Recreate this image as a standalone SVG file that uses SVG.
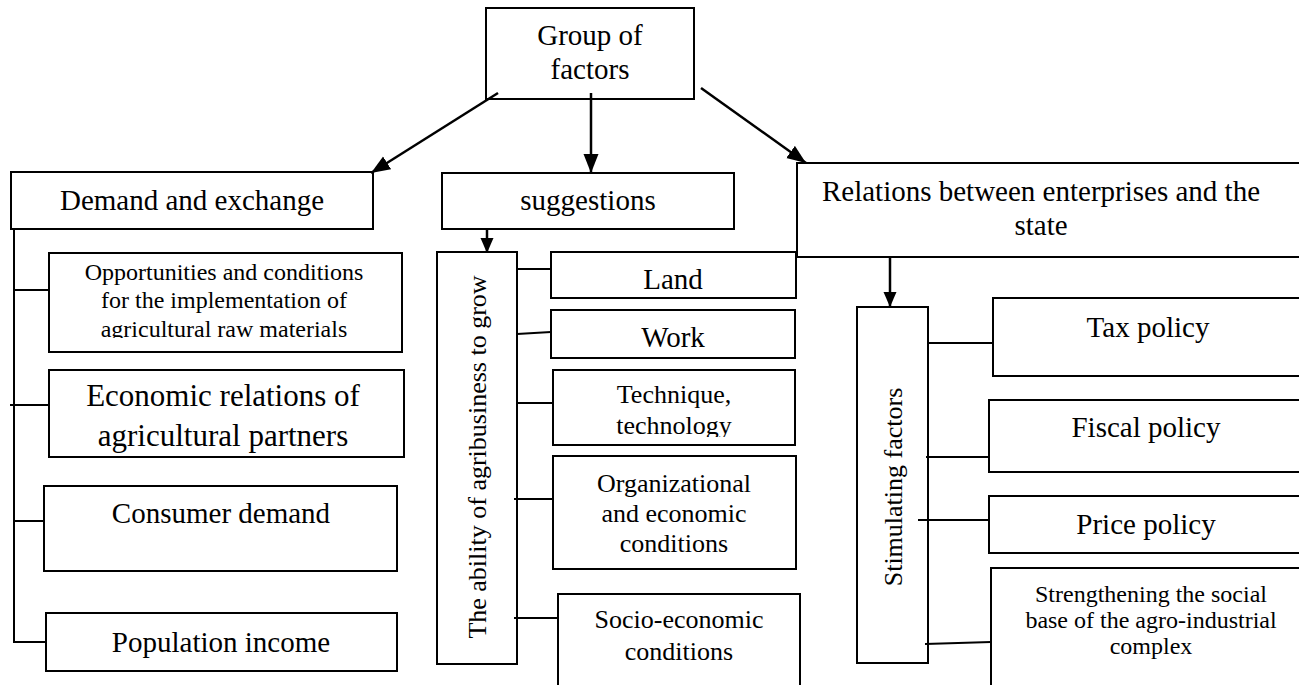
<svg xmlns="http://www.w3.org/2000/svg" width="1299" height="685" viewBox="0 0 1299 685" font-family="'Liberation Serif', 'DejaVu Serif', serif">
<style>
text{font-family:'Liberation Serif','DejaVu Serif',serif;fill:#000;text-anchor:middle}
.b{font-size:29px}
.m{font-size:26px}
.s{font-size:24px}
rect{fill:#fff;stroke:#000;stroke-width:2}
.c line{stroke:#000;stroke-width:2}
.c .a{stroke-width:2.5}
</style>
<defs>
<marker id="ah" markerUnits="userSpaceOnUse" markerWidth="20" markerHeight="16" refX="19" refY="7.5" orient="auto"><path d="M0,0 L19,7.5 L0,15 z" fill="#000"/></marker>
<marker id="ahs" markerUnits="userSpaceOnUse" markerWidth="16" markerHeight="14" refX="15" refY="6.5" orient="auto"><path d="M0,0 L15,6.5 L0,13 z" fill="#000"/></marker>
<clipPath id="clipOpp"><rect x="49" y="253" width="353" height="85"/></clipPath>
<clipPath id="clipTech"><rect x="553" y="370" width="242" height="67"/></clipPath>
</defs>

<g id="group-of-factors"><rect x="486" y="8" width="208" height="91"/><text class="b" x="590" y="45">Group of</text><text class="b" x="590" y="79">factors</text></g>

<g id="demand-and-exchange"><rect x="11" y="172" width="362" height="57"/><text class="b" x="192" y="210">Demand and exchange</text></g>
<g id="suggestions"><rect x="442" y="173" width="292" height="56"/><text class="b" x="588" y="210">suggestions</text></g>
<g id="relations"><rect x="797" y="163" width="513" height="94"/><text class="b" x="1041" y="201">Relations between enterprises and the</text><text class="b" x="1041" y="235">state</text></g>

<g id="opportunities"><rect x="49" y="253" width="353" height="99"/><g clip-path="url(#clipOpp)"><text class="s" x="224" y="280">Opportunities and conditions</text><text class="s" x="224" y="308">for the implementation of</text><text class="s" x="224" y="337">agricultural raw materials</text></g></g>
<g id="economic-relations"><rect x="49" y="370" width="355" height="87"/><text class="b" x="223" y="406" style="font-size:31px">Economic relations of</text><text class="b" x="223" y="446" style="font-size:31px">agricultural partners</text></g>
<g id="consumer-demand"><rect x="44" y="486" width="353" height="85"/><text class="b" x="221" y="523">Consumer demand</text></g>
<g id="population-income"><rect x="46" y="613" width="351" height="58"/><text class="b" x="221" y="652">Population income</text></g>

<g id="ability"><rect x="437" y="252" width="80" height="412"/><text class="m" transform="translate(486,457) rotate(-90)" x="0" y="0">The ability of agribusiness to grow</text></g>
<g id="land"><rect x="551" y="252" width="245" height="46"/><text class="b" x="673" y="289">Land</text></g>
<g id="work"><rect x="551" y="310" width="244" height="48"/><text class="b" x="673" y="347">Work</text></g>
<g id="technique"><rect x="553" y="370" width="242" height="75"/><g clip-path="url(#clipTech)"><text class="m" x="674" y="403">Technique,</text><text class="m" x="674" y="434">technology</text></g></g>
<g id="organizational"><rect x="553" y="456" width="243" height="113"/><text class="m" x="674" y="492">Organizational</text><text class="m" x="674" y="522">and economic</text><text class="m" x="674" y="552">conditions</text></g>
<g id="socio-economic"><rect x="558" y="594" width="242" height="106"/><text class="m" x="679" y="628">Socio-economic</text><text class="m" x="679" y="660">conditions</text></g>

<g id="stimulating"><rect x="857" y="307" width="71" height="356"/><text class="m" transform="translate(902,487) rotate(-90)" x="0" y="0">Stimulating factors</text></g>
<g id="tax-policy"><rect x="993" y="298" width="317" height="78"/><text class="b" x="1148" y="337">Tax policy</text></g>
<g id="fiscal-policy"><rect x="989" y="400" width="321" height="72"/><text class="b" x="1146" y="437">Fiscal policy</text></g>
<g id="price-policy"><rect x="989" y="496" width="321" height="57"/><text class="b" x="1146" y="534">Price policy</text></g>
<g id="strengthening"><rect x="991" y="568" width="319" height="132"/><text class="s" x="1151" y="602">Strengthening the social</text><text class="s" x="1151" y="628">base of the agro-industrial</text><text class="s" x="1151" y="654">complex</text></g>

<g id="connectors" class="c">
<line class="a" x1="498" y1="93" x2="371" y2="173" marker-end="url(#ah)"/>
<line class="a" x1="591" y1="93" x2="591" y2="173" marker-end="url(#ah)"/>
<line class="a" x1="701" y1="88" x2="806" y2="163" marker-end="url(#ah)"/>
<line class="a" x1="487" y1="229" x2="487" y2="253" marker-end="url(#ahs)"/>
<line class="a" x1="890" y1="257" x2="890" y2="307" marker-end="url(#ahs)"/>
<line x1="14" y1="229" x2="14" y2="643"/>
<line x1="14" y1="290" x2="49" y2="290"/>
<line x1="10" y1="405" x2="49" y2="405"/>
<line x1="14" y1="521" x2="44" y2="521"/>
<line x1="14" y1="642" x2="46" y2="642"/>
<line x1="517" y1="269" x2="551" y2="269"/>
<line x1="517" y1="334" x2="551" y2="332"/>
<line x1="517" y1="403" x2="553" y2="403"/>
<line x1="514" y1="499" x2="553" y2="499"/>
<line x1="514" y1="618" x2="558" y2="618"/>
<line x1="928" y1="343" x2="993" y2="343"/>
<line x1="926" y1="457" x2="989" y2="457"/>
<line x1="918" y1="520" x2="989" y2="520"/>
<line x1="925" y1="644" x2="991" y2="642"/>
</g>
</svg>
